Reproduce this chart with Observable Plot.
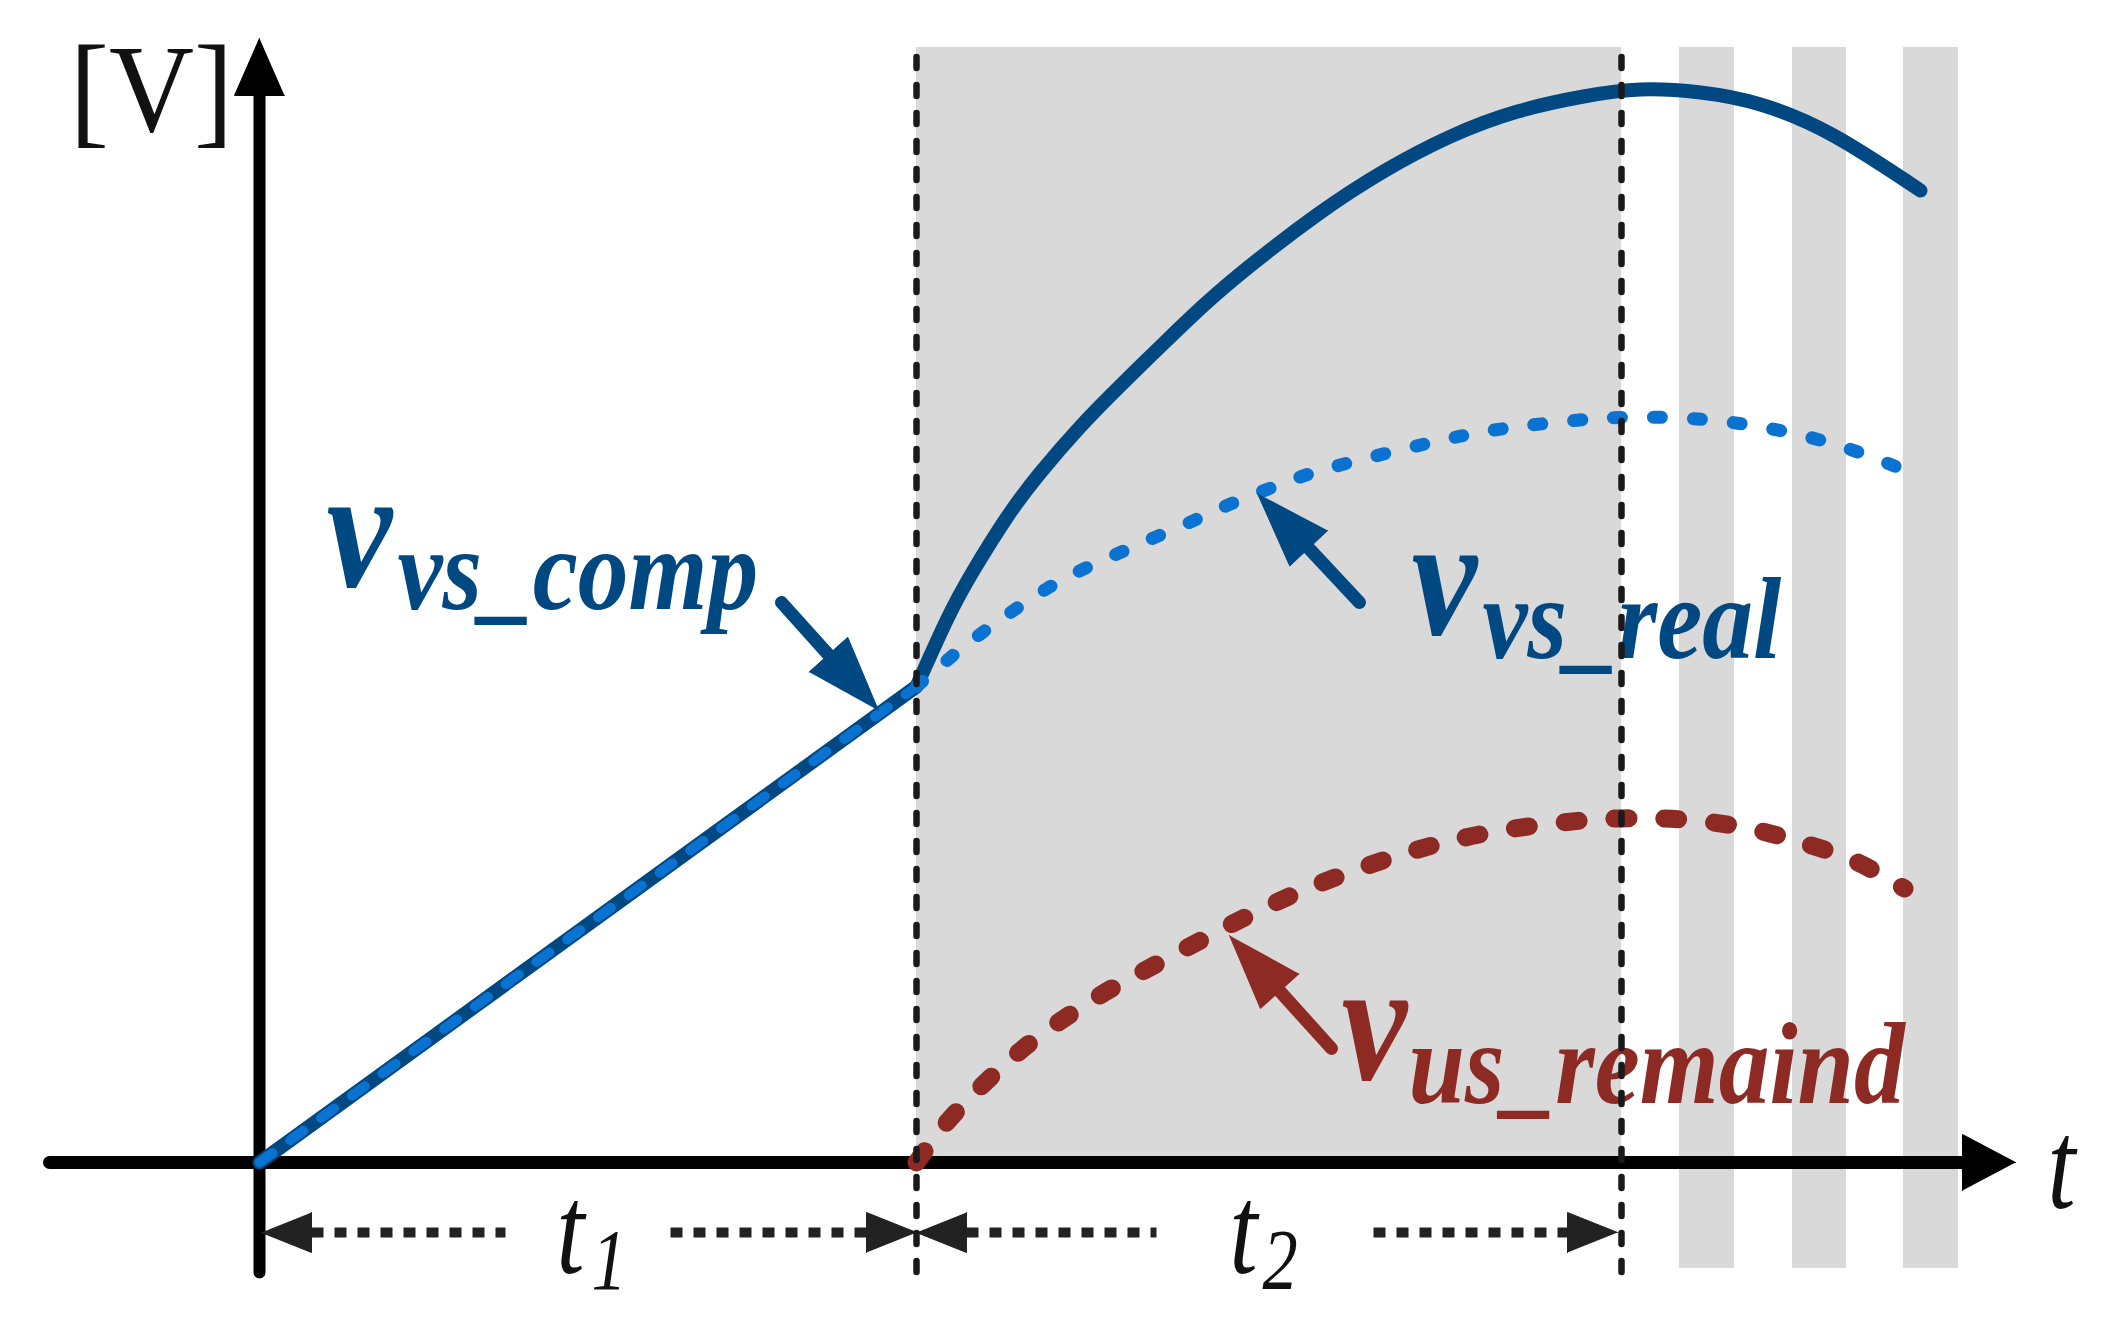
<!DOCTYPE html>
<html><head><meta charset="utf-8">
<script src="https://cdn.jsdelivr.net/npm/d3@7"></script>
<script src="https://cdn.jsdelivr.net/npm/@observablehq/plot@0.6"></script>
<style>html,body{margin:0;padding:0;background:#fff;overflow:hidden}</style>
</head><body><div id="chart"></div>
<script>
// ---- data (arbitrary time / voltage units) ----
const t1End = 6.57;
const t2End = 13.62;
const shadedTop = 11.15;
const stripeX1 = [14.20, 15.33, 16.44];
const stripeX2 = [14.75, 15.87, 16.99];
const stripeBottom = -1.06;
const dividerX = [t1End, t2End];
const dividerY = [-1.10, 11.2];

const linearPart = [[0, 0], [6.57, 4.76]];
const compCurve = [[6.57,4.76],[6.88,5.44],[7.14,5.92],[7.48,6.46],[7.81,6.90],[8.21,7.36],[8.61,7.77],[9.04,8.19],[9.44,8.57],[9.91,8.97],[10.58,9.48],[11.24,9.91],[11.91,10.26],[12.58,10.51],[13.24,10.66],[13.81,10.73],[14.41,10.70],[15.01,10.58],[15.74,10.27],[16.61,9.72]];
const realCurve = [[6.57,4.76],[6.91,5.05],[7.23,5.30],[7.54,5.52],[7.86,5.73],[8.19,5.91],[8.54,6.07],[8.88,6.22],[9.23,6.37],[9.54,6.51],[9.89,6.66],[10.26,6.80],[10.61,6.92],[11.30,7.10],[12.04,7.27],[12.60,7.36],[13.15,7.42],[13.64,7.45],[14.31,7.44],[15.05,7.35],[15.79,7.17],[16.46,6.92]];
const remaindCurve = [[6.57,0],[6.89,0.42],[7.31,0.85],[7.70,1.19],[8.12,1.49],[8.54,1.75],[9.28,2.15],[10.12,2.58],[11.03,2.95],[12.01,3.24],[12.93,3.39],[13.56,3.44],[14.05,3.44],[14.54,3.40],[15.03,3.31],[15.45,3.19],[15.94,3.02],[16.45,2.74]];

// axes
const yAxisFrom = [0, -1.10], yAxisTip = [0, 11.24];
const xAxisFrom = [-2.10, 0], xAxisTip = [17.56, 0];

// annotation labels
const labelNames = ["v", "v", "v"];
const labelSubs = ["vs_comp", "vs_real", "us_remaind"];
const labelColors = ["#004882", "#004882", "#8c2a23"];
const labelMainPos = [[0.67, 5.77], [11.52, 5.29], [10.82, 0.84]];
const labelSubPos = [[1.38, 5.54], [12.23, 5.05], [11.49, 0.60]];
const arrowTails = [[5.22, 5.60], [11.00, 5.60], [10.72, 1.14]];
const arrowTips = [[6.19, 4.52], [9.98, 6.69], [9.70, 2.27]];

// dimension arrows
const dimY = -0.70;
const dimFrom = [0.02, t1End];
const dimTo = [t1End, 13.58];
const dimGapFrom = [2.46, 8.97];
const dimGapTo = [4.11, 11.14];
const dimLabelPos = [[2.97, -1.10], [9.70, -1.10]];
const dimSubPos = [[3.32, -1.26], [10.03, -1.26]];
const dimSubs = ["1", "2"];

// ---- helpers (derive geometry from the data above) ----
function head(tail, tip, len, half, id) {
  const dx = tip[0] - tail[0], dy = tip[1] - tail[1];
  const L = Math.hypot(dx, dy), ux = dx / L, uy = dy / L;
  const bx = tip[0] - ux * len, by = tip[1] - uy * len;
  return {
    base: [bx, by],
    pts: [
      {x: tip[0], y: tip[1], id},
      {x: bx - uy * half, y: by + ux * half, id},
      {x: bx + uy * half, y: by - ux * half, id}
    ]
  };
}
const P = ([x, y]) => ({x, y});

const BLUE_DARK = "#004882", BLUE_LIGHT = "#0a72d0", RED = "#8c2a23", GRAY = "#d9d9d9", INK = "#111";

const yHead = head(yAxisFrom, yAxisTip, 0.57, 0.25, "y");
const xHead = head(xAxisFrom, xAxisTip, 0.53, 0.28, "x");

const annHeads = arrowTips.map((tip, i) => head(arrowTails[i], tip, 0.75, 0.26, "a" + i));
const annShafts = annHeads.map((h, i) => [
  {x: arrowTails[i][0], y: arrowTails[i][1], id: i, c: labelColors[i]},
  {x: h.base[0], y: h.base[1], id: i, c: labelColors[i]}
]).flat();
const annHeadPts = annHeads.map((h, i) => h.pts.map(p => ({...p, c: labelColors[i]}))).flat();

const dimDots = [];
const dimHeadPts = [];
dimFrom.forEach((f, i) => {
  const t = dimTo[i];
  const hl = head([t, dimY], [f, dimY], 0.5, 0.2, "dl" + i);
  const hr = head([f, dimY], [t, dimY], 0.5, 0.2, "dr" + i);
  dimHeadPts.push(...hl.pts, ...hr.pts);
  dimDots.push({x: hl.base[0], y: dimY, id: "s" + i + "a"}, {x: dimGapFrom[i], y: dimY, id: "s" + i + "a"});
  dimDots.push({x: dimGapTo[i], y: dimY, id: "s" + i + "b"}, {x: hr.base[0], y: dimY, id: "s" + i + "b"});
});

const serif = "'Liberation Serif', 'Times New Roman', serif";
// horizontal condensing per font size (reference typeface is narrow)
const condense = {172: 0.86, 116: 0.875, 124: 0.95, 126: 0.8, 86: 0.82};

const chart = Plot.plot({
  width: 2113,
  height: 1324,
  margin: 0,
  x: {domain: [-2.59, 18.54], axis: null},
  y: {domain: [-1.62, 11.62], axis: null},
  style: {background: "#fff", overflow: "visible"},
  marks: [
    Plot.rect([0], {x1: t1End, x2: t2End, y1: 0, y2: shadedTop, fill: GRAY}),
    Plot.rect(stripeX1.map((x1, i) => ({x1, x2: stripeX2[i]})), {x1: "x1", x2: "x2", y1: stripeBottom, y2: shadedTop, fill: GRAY}),
    Plot.line([yAxisFrom, yHead.base].map(P), {x: "x", y: "y", stroke: "#000", strokeWidth: 12, strokeLinecap: "round"}),
    Plot.line([xAxisFrom, xHead.base].map(P), {x: "x", y: "y", stroke: "#000", strokeWidth: 13, strokeLinecap: "round"}),
    Plot.line([...yHead.pts, ...xHead.pts], {x: "x", y: "y", z: "id", fill: "#000", stroke: "#000", strokeWidth: 1}),
    Plot.line(dimDots, {x: "x", y: "y", z: "id", stroke: "#222", strokeWidth: 10, strokeDasharray: "12 11", strokeLinecap: "butt"}),
    Plot.line(dimHeadPts, {x: "x", y: "y", z: "id", fill: "#222", stroke: "#222", strokeWidth: 1}),
    Plot.line(linearPart.map(P), {x: "x", y: "y", stroke: BLUE_DARK, strokeWidth: 14, strokeLinecap: "round"}),
    Plot.line(compCurve.map(P), {x: "x", y: "y", stroke: BLUE_DARK, strokeWidth: 14, curve: "natural", strokeLinecap: "round"}),
    Plot.line(linearPart.map(P), {x: "x", y: "y", stroke: BLUE_LIGHT, strokeWidth: 10, strokeDasharray: "16 22", strokeLinecap: "round"}),
    Plot.line(realCurve.map(P), {x: "x", y: "y", stroke: BLUE_LIGHT, strokeWidth: 13, curve: "natural", strokeDasharray: "8 32", strokeLinecap: "round"}),
    Plot.line(remaindCurve.map(P), {x: "x", y: "y", stroke: RED, strokeWidth: 18, curve: "natural", strokeDasharray: "14 36", strokeLinecap: "round"}),
    Plot.line(annShafts, {x: "x", y: "y", z: "id", stroke: "c", strokeWidth: 13, strokeLinecap: "round"}),
    Plot.line(annHeadPts, {x: "x", y: "y", z: "id", fill: "c", stroke: "c", strokeWidth: 1}),
    Plot.text(labelNames.map((t, i) => ({t, x: labelMainPos[i][0], y: labelMainPos[i][1], c: labelColors[i]})),
      {x: "x", y: "y", text: "t", fill: "c", fontSize: 172, fontFamily: serif, fontStyle: "italic", fontWeight: "bold", textAnchor: "start", lineAnchor: "bottom"}),
    Plot.text(labelSubs.map((t, i) => ({t, x: labelSubPos[i][0], y: labelSubPos[i][1], c: labelColors[i]})),
      {x: "x", y: "y", text: "t", fill: "c", fontSize: 116, fontFamily: serif, fontStyle: "italic", fontWeight: "bold", textAnchor: "start", lineAnchor: "bottom"}),
    Plot.text(["[V]"], {x: -1.08, y: 10.32, text: d => d, fill: INK, fontSize: 124, fontFamily: serif, textAnchor: "middle", lineAnchor: "bottom"}),
    Plot.text(["t"], {x: 17.88, y: -0.45, text: d => d, fill: INK, fontSize: 126, fontFamily: serif, fontStyle: "italic", textAnchor: "start", lineAnchor: "bottom"}),
    Plot.text(dimLabelPos.map(([x, y]) => ({x, y})), {x: "x", y: "y", text: () => "t", fill: INK, fontSize: 126, fontFamily: serif, fontStyle: "italic", textAnchor: "start", lineAnchor: "bottom"}),
    Plot.text(dimSubPos.map(([x, y], i) => ({x, y, s: dimSubs[i]})), {x: "x", y: "y", text: "s", fill: INK, fontSize: 86, fontFamily: serif, fontStyle: "italic", textAnchor: "start", lineAnchor: "bottom"}),
    Plot.ruleX(dividerX, {y1: dividerY[0], y2: dividerY[1], stroke: "#1a1a1a", strokeWidth: 6.5, strokeDasharray: "11 17", strokeLinecap: "round"})
  ]
});

chart.querySelectorAll("text").forEach(t => {
  let el = t, fs = null;
  while (el && el !== chart && fs == null) {
    const a = el.getAttribute && el.getAttribute("font-size");
    if (a) fs = parseFloat(a);
    el = el.parentNode;
  }
  const s = condense[fs];
  if (!s) return;
  const tr = t.getAttribute("transform");
  if (tr && /translate/.test(tr)) {
    t.setAttribute("transform", tr + ` scale(${s},1)`);
  } else {
    const x = +(t.getAttribute("x") || 0), y = +(t.getAttribute("y") || 0);
    t.setAttribute("transform", `translate(${x},${y}) scale(${s},1) translate(${-x},${-y})`);
  }
});
document.getElementById("chart").appendChild(chart);
</script>
</body></html>
